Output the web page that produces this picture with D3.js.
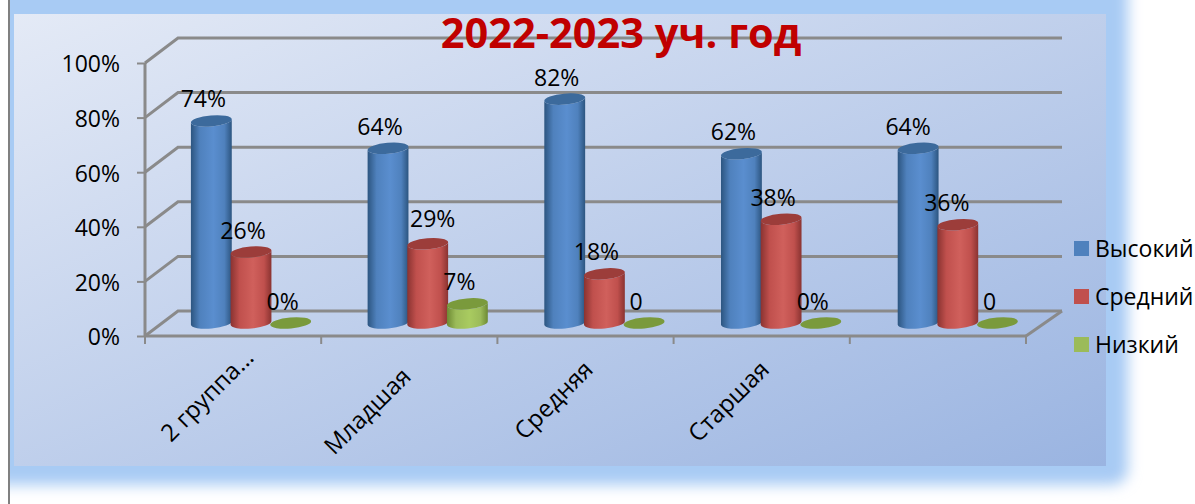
<!DOCTYPE html>
<html>
<head>
<meta charset="utf-8">
<script src="https://cdn.jsdelivr.net/npm/d3@7"></script>
<style>
  html, body { margin: 0; padding: 0; background: #fff; }
  svg { display: block; }
  text { font-family: "Open Sans", "Noto Sans", sans-serif; fill: #000; }
</style>
</head>
<body>
<div id="chart"></div>
<script>
var categories = ['2 группа…', 'Младшая', 'Средняя', 'Старшая', ''];
var seriesNames = ['Высокий', 'Средний', 'Низкий'];

var high = [74, 64, 82, 62, 64];
var middle = [26, 29, 18, 38, 36];
var low = [0, 7, 0, 0, 0];

var highLabels = ['74%', '64%', '82%', '62%', '64%'];
var middleLabels = ['26%', '29%', '18%', '38%', '36%'];
var lowLabels = ['0%', '7%', '0', '0%', '0'];

var yTicks = [0, 20, 40, 60, 80, 100];

var seriesValues = [high, middle, low];
var seriesLabels = [highLabels, middleLabels, lowLabels];

var colors = [
  { body: '#4f81bd', light: '#5a8ecf', edge: '#2c5580', top: '#3c6a9c' },
  { body: '#c0504d', light: '#d0605c', edge: '#8a3331', top: '#9c3d3a' },
  { body: '#9bbb59', light: '#a9cb60', edge: '#6d8a33', top: '#7a9a3c' }
];

var width = 1195, height = 504;
var depthX = 33, depthY = 25;    // 3d offset of the back wall
var radiusX = 20.5, radiusY = 5.5, tilt = -5;
var fontSize = '23px';

var svg = d3.select('#chart').append('svg')
  .attr('width', width)
  .attr('height', height);

var defs = svg.append('defs');

var panelGrad = defs.append('linearGradient')
  .attr('id', 'panelGrad')
  .attr('x1', 0).attr('y1', 0).attr('x2', 1).attr('y2', 1);
panelGrad.append('stop').attr('offset', '0%').attr('stop-color', '#e4eaf6');
panelGrad.append('stop').attr('offset', '100%').attr('stop-color', '#9ab4e1');

defs.append('filter')
  .attr('id', 'glow')
  .attr('x', '-5%').attr('y', '-5%').attr('width', '110%').attr('height', '110%')
  .append('feGaussianBlur')
  .attr('stdDeviation', 7);

defs.append('clipPath')
  .attr('id', 'pageClip')
  .append('rect')
  .attr('x', 10).attr('y', 0).attr('width', width).attr('height', height);

colors.forEach(function (c, i) {
  var g = defs.append('linearGradient').attr('id', 'bar' + i);
  g.append('stop').attr('offset', '0%').attr('stop-color', c.edge);
  g.append('stop').attr('offset', '22%').attr('stop-color', c.body);
  g.append('stop').attr('offset', '55%').attr('stop-color', c.light);
  g.append('stop').attr('offset', '82%').attr('stop-color', c.body);
  g.append('stop').attr('offset', '100%').attr('stop-color', c.edge);
});

// background
svg.append('g')
  .attr('clip-path', 'url(#pageClip)')
  .append('rect')
  .attr('x', -30).attr('y', -30)
  .attr('width', 1158).attr('height', 515)
  .attr('rx', 16)
  .attr('fill', '#a8cbf4')
  .attr('filter', 'url(#glow)');

svg.append('rect')
  .attr('x', 14).attr('y', 14)
  .attr('width', 1092).attr('height', 452)
  .attr('fill', 'url(#panelGrad)');

svg.append('line')
  .attr('x1', 9).attr('x2', 9)
  .attr('y1', 0).attr('y2', height)
  .attr('stroke', '#808080')
  .attr('stroke-width', 2);

// scales
var x = d3.scaleBand()
  .domain(categories)
  .range([145, 1026]);

var xSeries = d3.scaleBand()
  .domain(d3.range(seriesNames.length))
  .range([46.5, 165.5]);

var y = d3.scaleLinear()
  .domain([0, 100])
  .range([336, 63]);

// the foot of a bar sits a bit behind the front of the floor
var barFoot = 13;
function barY(v) { return y(v) - barFoot; }

// bars spread a little wider than the floor ticks because of the perspective
function barX(s, i) {
  return x(categories[i]) + xSeries(s) + xSeries.bandwidth() / 2 + i * 0.5;
}

// walls
var lineColor = '#8a8a8a';
var lineWidth = 3;
var walls = svg.append('g')
  .attr('fill', 'none')
  .attr('stroke', lineColor)
  .attr('stroke-width', lineWidth);

walls.selectAll('path.grid')
  .data(yTicks)
  .enter().append('path')
  .attr('class', 'grid')
  .attr('d', function (d) {
    return 'M' + x.range()[0] + ',' + y(d) +
      'L' + (x.range()[0] + depthX) + ',' + (y(d) - depthY) +
      'H' + (x.range()[1] + depthX + 3);
  });

walls.append('path')
  .attr('d', 'M' + x.range()[1] + ',' + y(0) +
    'L' + (x.range()[1] + depthX + 3) + ',' + (y(0) - depthY));

// axes
var yAxis = svg.append('g')
  .attr('transform', 'translate(' + x.range()[0] + ',0)')
  .call(d3.axisLeft(y)
    .tickValues(yTicks)
    .tickSize(8)
    .tickPadding(17)
    .tickFormat(function (d) { return d + '%'; }));

var xAxis = svg.append('g')
  .attr('transform', 'translate(0,' + y(0) + ')')
  .call(d3.axisBottom(x).tickSize(0).tickPadding(0));

[yAxis, xAxis].forEach(function (a) {
  a.selectAll('.domain')
    .attr('stroke', lineColor)
    .attr('stroke-width', lineWidth);
  a.selectAll('.tick line')
    .attr('stroke', lineColor)
    .attr('stroke-width', 2);
  a.selectAll('.tick text')
    .attr('font-family', null)
    .style('font-size', fontSize);
});
yAxis.select('.domain').attr('d', 'M0,' + y(100) + 'V' + y(0));
xAxis.select('.domain').attr('d', 'M' + x.range()[0] + ',0H' + x.range()[1]);
yAxis.selectAll('.tick text').attr('dy', '0.39em');

// the labels do not all end the same distance from the axis
var catShiftX = [22, 3, 9, 9, 9];
var catShiftY = [23, 42, 35, 35, 35];
xAxis.selectAll('.tick text')
  .attr('text-anchor', 'end')
  .attr('dy', null)
  .attr('y', null)
  .style('font-size', '24px')
  .attr('transform', function (d, i) {
    return 'translate(' + catShiftX[i] + ',' + catShiftY[i] + ') rotate(-45)';
  });

// tick marks sit on the band edges
xAxis.selectAll('line.edge')
  .data(categories.concat(['end']))
  .enter().append('line')
  .attr('class', 'edge')
  .attr('x1', function (d, i) { return x.range()[0] + i * x.step(); })
  .attr('x2', function (d, i) { return x.range()[0] + i * x.step(); })
  .attr('y1', 0)
  .attr('y2', 8)
  .attr('stroke', lineColor)
  .attr('stroke-width', 2);

// cylinders
function barPath(cx, top, bottom) {
  var a = tilt * Math.PI / 180;
  var dx = radiusX * Math.cos(a), dy = radiusX * Math.sin(a);
  var arc = 'A' + radiusX + ',' + radiusY + ' ' + tilt + ' 0 ';
  return 'M' + (cx - dx) + ',' + (top - dy) +
    'L' + (cx - dx) + ',' + (bottom - dy) +
    arc + '0 ' + (cx + dx) + ',' + (bottom + dy) +
    'L' + (cx + dx) + ',' + (top + dy) +
    arc + '1 ' + (cx - dx) + ',' + (top - dy) + 'Z';
}

seriesValues.forEach(function (values, s) {
  var g = svg.append('g').attr('class', 'series' + s);

  g.selectAll('path.body')
    .data(values)
    .enter().append('path')
    .attr('class', 'body')
    .attr('fill', 'url(#bar' + s + ')')
    .attr('d', function (d, i) {
      return d > 0 ? barPath(barX(s, i), barY(d), barY(0)) : null;
    });

  g.selectAll('ellipse')
    .data(values)
    .enter().append('ellipse')
    .attr('rx', radiusX)
    .attr('ry', radiusY)
    .attr('fill', colors[s].top)
    .attr('transform', function (d, i) {
      return 'translate(' + barX(s, i) + ',' + barY(d) + ') rotate(' + tilt + ')';
    });
});

// data labels, a few were dragged by hand in the original
var labelShiftX = { '1,1': 13, '0,4': -2, '1,4': -3 };
var labelShiftY = { '1,1': -3 };
seriesLabels.forEach(function (labels, s) {
  svg.append('g').selectAll('text')
    .data(labels)
    .enter().append('text')
    .attr('text-anchor', 'middle')
    .style('font-size', fontSize)
    .attr('x', function (d, i) {
      return barX(s, i) - 8 + (labelShiftX[s + ',' + i] || 0);
    })
    .attr('y', function (d, i) {
      return barY(seriesValues[s][i]) - 13.5 + (labelShiftY[s + ',' + i] || 0);
    })
    .text(function (d) { return d; });
});

// title
svg.append('text')
  .attr('x', 621)
  .attr('y', 48)
  .attr('text-anchor', 'middle')
  .style('font-size', '41.5px')
  .style('font-weight', 700)
  .style('fill', '#c00000')
  .text('2022-2023 уч. год');

// legend
var legend = svg.append('g').selectAll('g')
  .data(seriesNames)
  .enter().append('g')
  .attr('transform', function (d, i) {
    return 'translate(1074,' + (241 + i * 48) + ')';
  });

legend.append('rect')
  .attr('width', 15)
  .attr('height', 15)
  .attr('fill', function (d, i) { return colors[i].body; });

legend.append('text')
  .attr('x', 21)
  .attr('y', 16)
  .style('font-size', fontSize)
  .text(function (d) { return d; });
</script>
</body>
</html>
